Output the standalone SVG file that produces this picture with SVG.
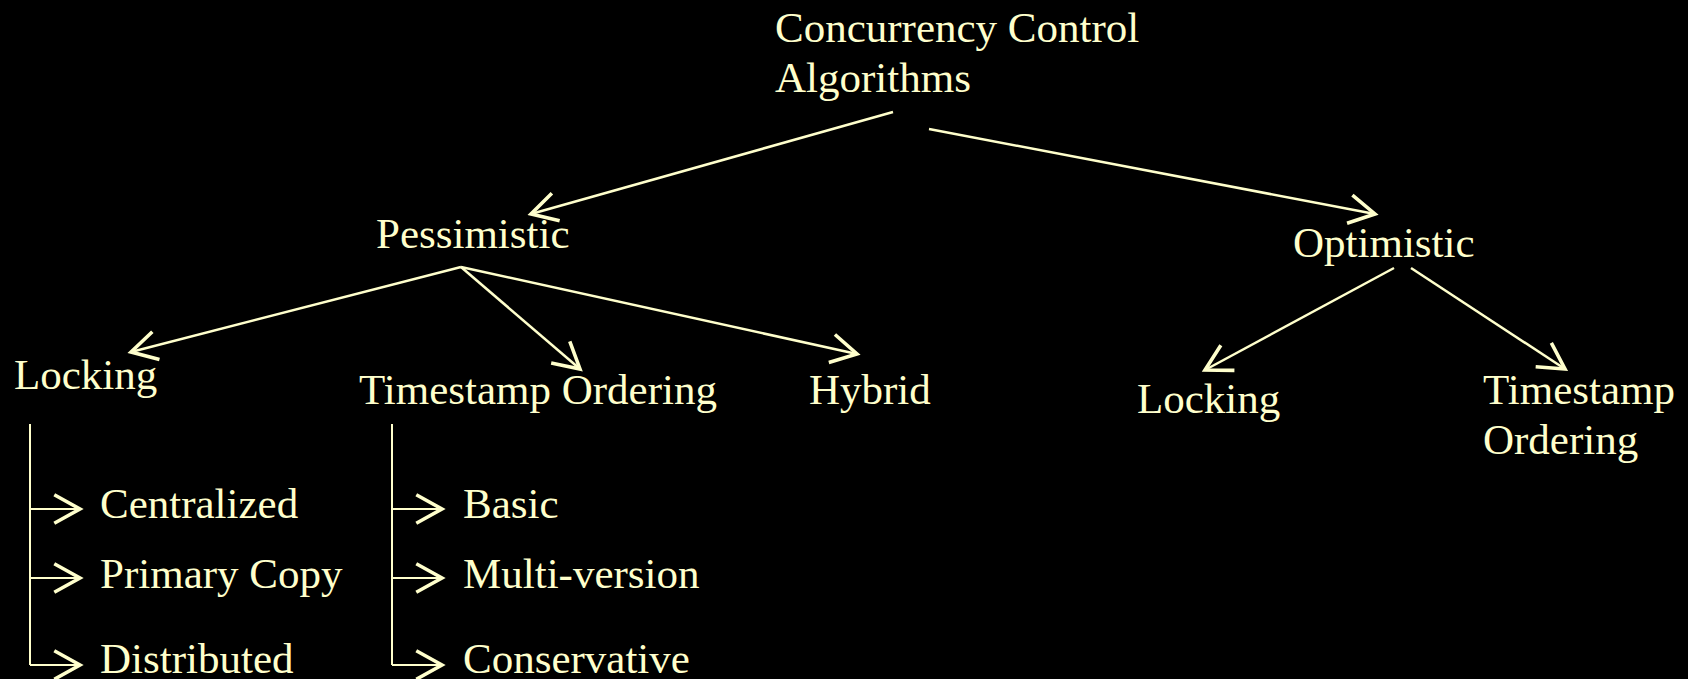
<svg xmlns="http://www.w3.org/2000/svg" width="1688" height="679" viewBox="0 0 1688 679">
  <style>
    .bg { fill: #000000; }
    .lbl { font-family: "Liberation Serif", "Times New Roman", serif; font-size: 43px; fill: #FFFFCC; }
    .edge { stroke: #FFFFCC; stroke-width: 2.5; fill: none; marker-end: url(#open); }
    .rail { stroke: #FFFFCC; stroke-width: 2; fill: none; }
    .tick { stroke: #FFFFCC; stroke-width: 2; fill: none; marker-end: url(#open); }
  </style>
  <defs>
    <!-- open chevron arrowhead shared by every connector -->
    <marker id="open" markerUnits="userSpaceOnUse" markerWidth="40" markerHeight="40" viewBox="-22 -14 26 28" refX="0" refY="0" orient="auto" overflow="visible">
      <path d="M-18,-10 L0,0 L-18,10" stroke="#FFFFCC" stroke-width="2.5" fill="none" stroke-linejoin="miter"/>
    </marker>
  </defs>

  <rect class="bg" x="0" y="0" width="1688" height="679"/>

  <!-- tree connectors -->
  <g id="connectors">
    <line class="edge" x1="893" y1="112" x2="531" y2="214"/>
    <line class="edge" x1="929" y1="129" x2="1375" y2="214"/>
    <line class="edge" x1="461" y1="267" x2="131" y2="352"/>
    <line class="edge" x1="461" y1="267" x2="580" y2="369"/>
    <line class="edge" x1="461" y1="267" x2="857" y2="354"/>
    <line class="edge" x1="1394" y1="268" x2="1205" y2="370"/>
    <line class="edge" x1="1411" y1="268" x2="1565" y2="369"/>

    <!-- locking variants bracket -->
    <polyline class="rail" points="30,424 30,665"/>
    <line class="tick" x1="30" y1="509" x2="80" y2="509"/>
    <line class="tick" x1="30" y1="578" x2="80" y2="578"/>
    <line class="tick" x1="30" y1="665" x2="80" y2="665"/>

    <!-- timestamp ordering variants bracket -->
    <polyline class="rail" points="392,424 392,665"/>
    <line class="tick" x1="392" y1="509" x2="442" y2="509"/>
    <line class="tick" x1="392" y1="578" x2="442" y2="578"/>
    <line class="tick" x1="392" y1="665" x2="442" y2="665"/>
  </g>

  <g id="root">
    <text class="lbl" x="775" y="42">Concurrency Control</text>
    <text class="lbl" x="775" y="92">Algorithms</text>
  </g>
  <g id="pessimistic"><text class="lbl" x="376" y="248">Pessimistic</text></g>
  <g id="optimistic"><text class="lbl" x="1293" y="257">Optimistic</text></g>
  <g id="locking"><text class="lbl" x="14" y="389">Locking</text></g>
  <g id="timestamp-ordering"><text class="lbl" x="359" y="404">Timestamp Ordering</text></g>
  <g id="hybrid"><text class="lbl" x="809" y="404">Hybrid</text></g>
  <g id="opt-locking"><text class="lbl" x="1137" y="413">Locking</text></g>
  <g id="opt-timestamp-ordering">
    <text class="lbl" x="1483" y="404">Timestamp</text>
    <text class="lbl" x="1483" y="454">Ordering</text>
  </g>
  <g id="centralized"><text class="lbl" x="100" y="518">Centralized</text></g>
  <g id="primary-copy"><text class="lbl" x="100" y="588">Primary Copy</text></g>
  <g id="distributed"><text class="lbl" x="100" y="673">Distributed</text></g>
  <g id="basic"><text class="lbl" x="463" y="518">Basic</text></g>
  <g id="multi-version"><text class="lbl" x="463" y="588">Multi-version</text></g>
  <g id="conservative"><text class="lbl" x="463" y="673">Conservative</text></g>
</svg>
